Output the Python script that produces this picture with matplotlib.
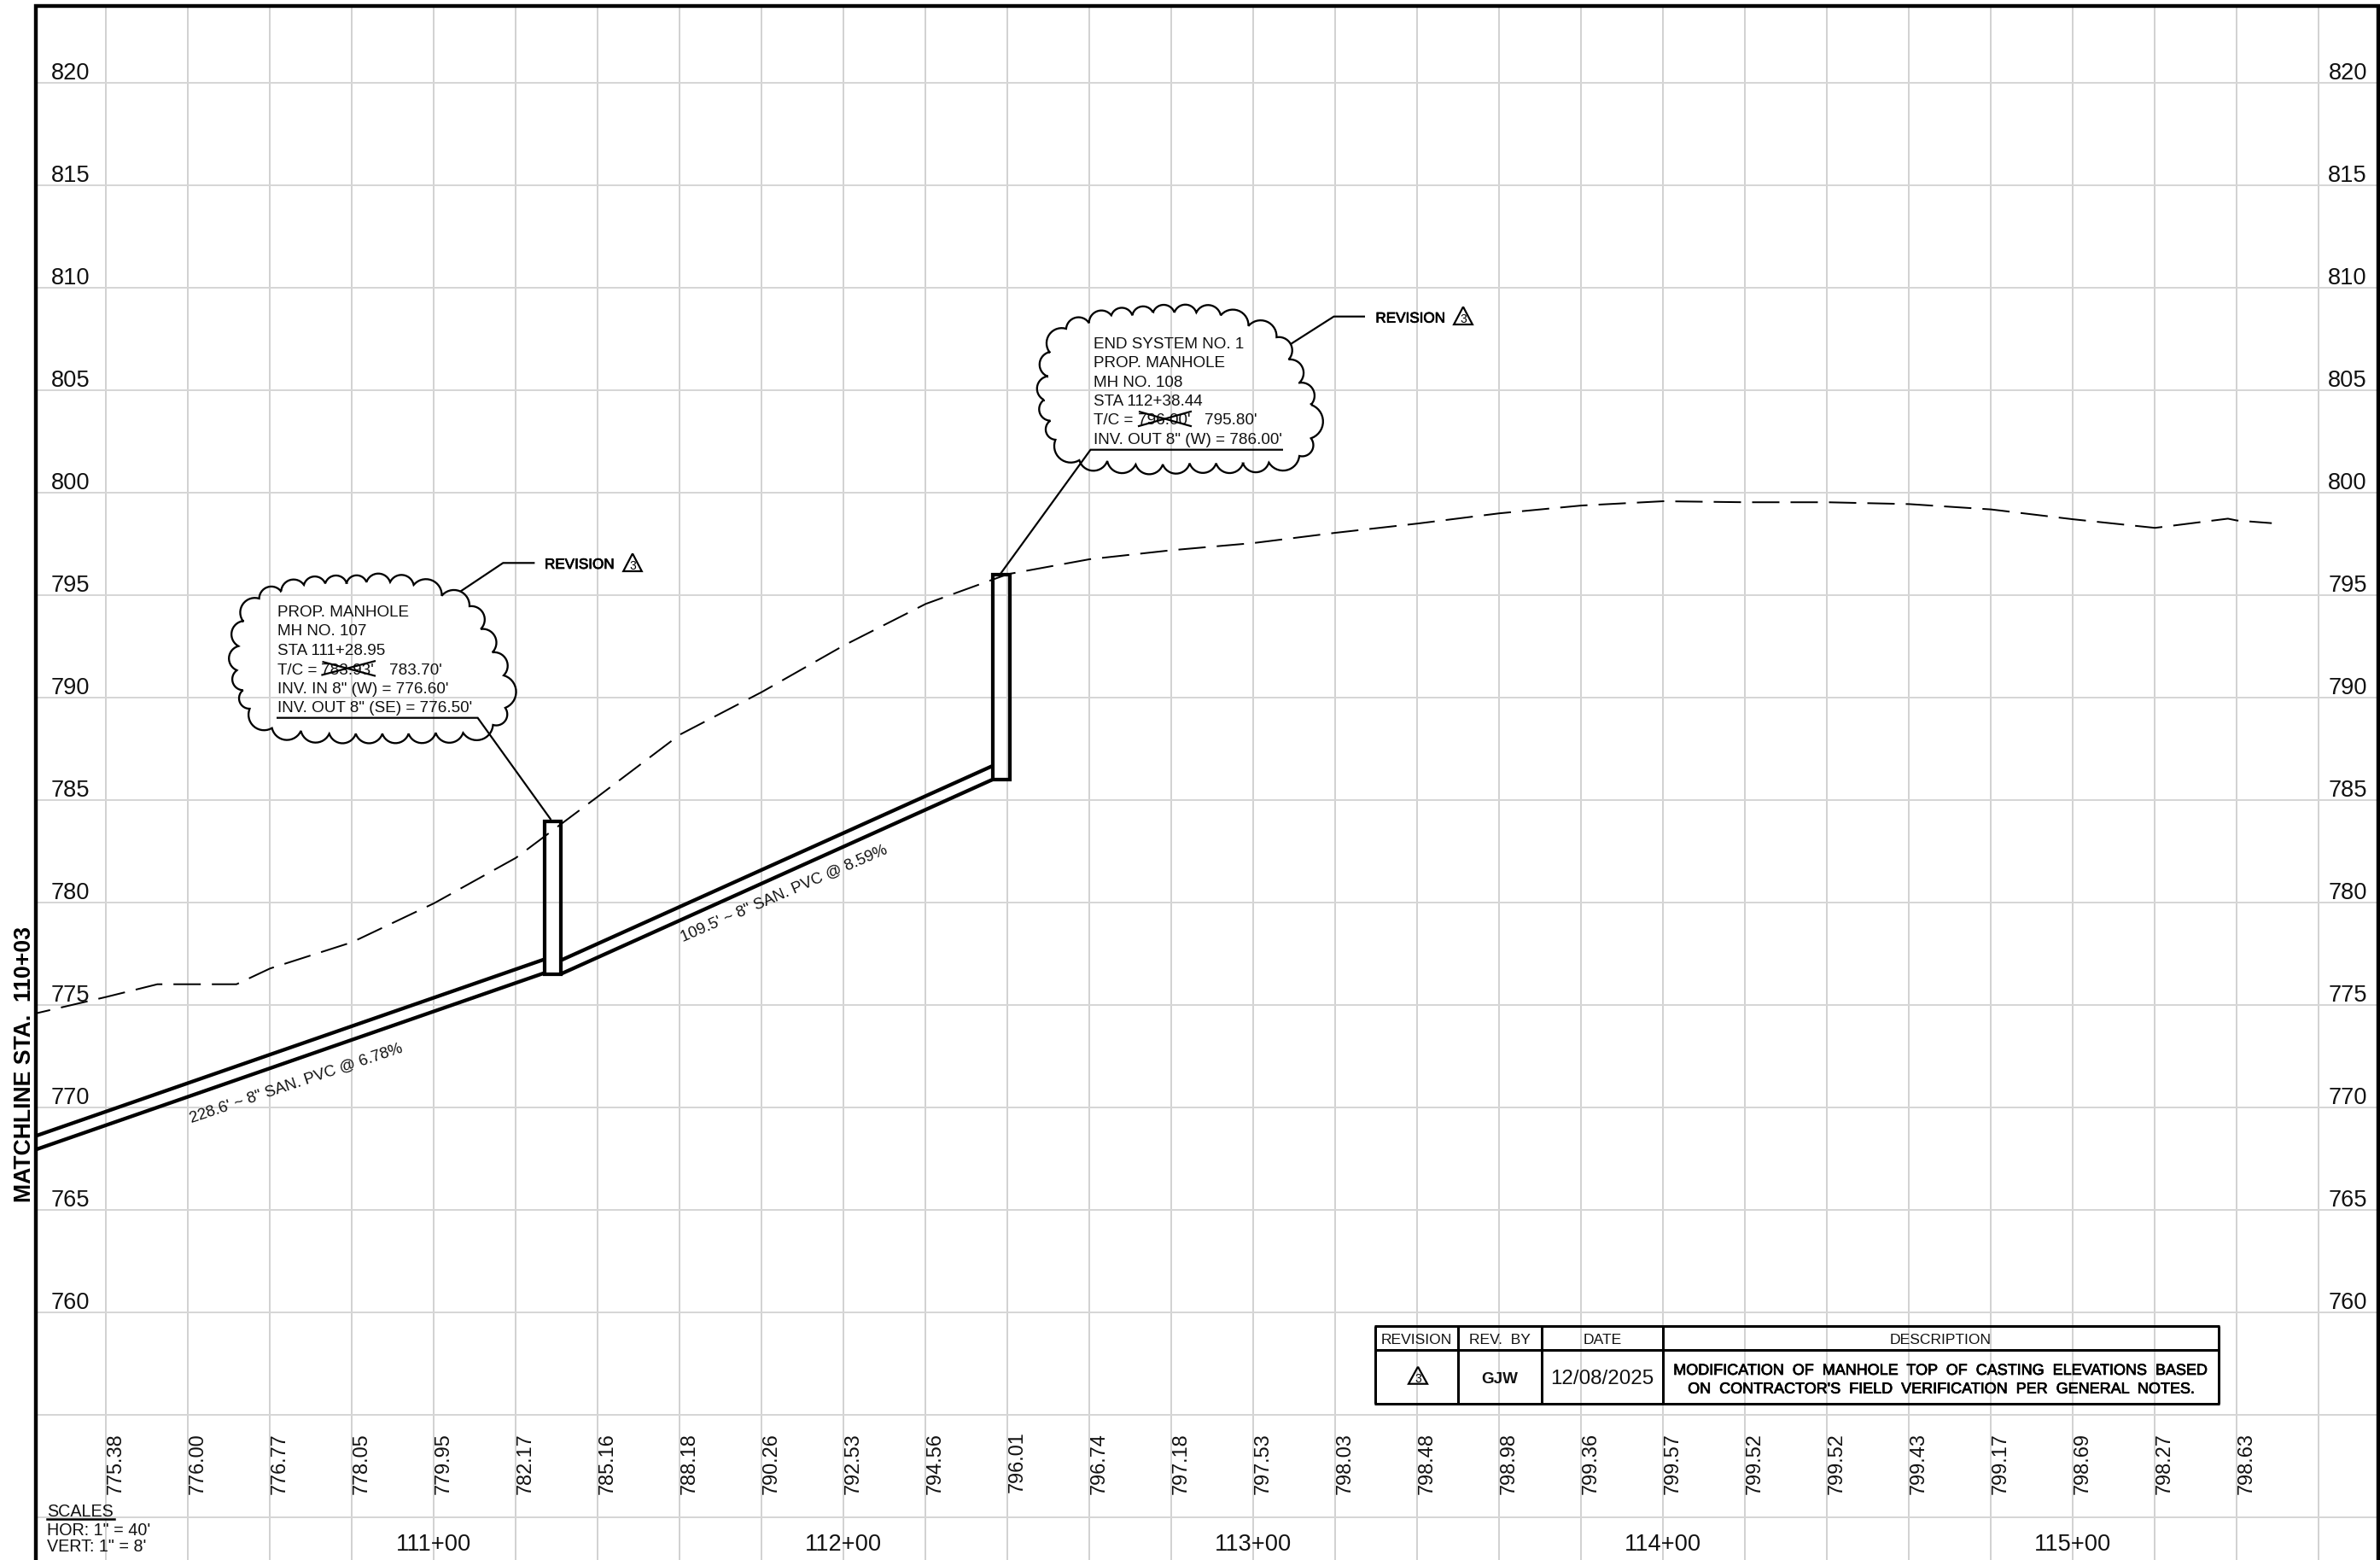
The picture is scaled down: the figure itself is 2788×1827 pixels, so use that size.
import numpy as np
import matplotlib
matplotlib.use("Agg")
import matplotlib.pyplot as plt
import matplotlib.patheffects as pe
from matplotlib.transforms import Affine2D
from matplotlib.patches import Rectangle

W, H = 2788, 1827
plt.rcParams['font.family'] = ['Liberation Sans', 'DejaVu Sans']
plt.rcParams['lines.scale_dashes'] = False

# ---- data ----
grid_stations = [11020, 11040, 11060, 11080, 11100, 11120, 11140, 11160, 11180, 11200,
                 11220, 11240, 11260, 11280, 11300, 11320, 11340, 11360, 11380, 11400,
                 11420, 11440, 11460, 11480, 11500, 11520, 11540, 11560]
grid_elevs = [820, 815, 810, 805, 800, 795, 790, 785, 780, 775, 770, 765, 760, 755, 750]
elev_labels = [820, 815, 810, 805, 800, 795, 790, 785, 780, 775, 770, 765, 760]
label_stations = grid_stations[:27]
label_values = ['775.38', '776.00', '776.77', '778.05', '779.95', '782.17', '785.16', '788.18',
                '790.26', '792.53', '794.56', '796.01', '796.74', '797.18', '797.53', '798.03',
                '798.48', '798.98', '799.36', '799.57', '799.52', '799.52', '799.43', '799.17',
                '798.69', '798.27', '798.63']
station_labels = {11100: '111+00', 11200: '112+00', 11300: '113+00', 11400: '114+00', 11500: '115+00'}

ground_sta = [11002.65, 11020, 11032.5, 11051.8, 11060, 11080, 11100, 11120, 11140, 11160, 11180,
              11200, 11220, 11240, 11260, 11280, 11300, 11320, 11340, 11360, 11380, 11400,
              11420, 11440, 11460, 11480, 11500, 11520, 11537.8, 11540, 11548.5]
ground_elev = [774.57, 775.38, 776.00, 776.00, 776.77, 778.05, 779.95, 782.17, 785.16, 788.18, 790.26,
               792.53, 794.56, 796.01, 796.74, 797.18, 797.53, 798.03, 798.48, 798.98, 799.36, 799.57,
               799.52, 799.52, 799.43, 799.17, 798.69, 798.27, 798.72, 798.63, 798.50]

pipe1_sta = [11002.65, 11126.95]
pipe1_inv = [767.92, 776.55]
pipe2_sta = [11130.95, 11236.44]
pipe2_inv = [776.50, 786.00]
pipe_dia = 8 / 12

mh_sta = [11128.95, 11238.44]
mh_bottom = [776.50, 786.00]
mh_top = [783.93, 796.00]
mh_width = 4.0

cloud1 = [(284.6,727.3),(279.3,756.7),(277.5,785),(284.6,808.3),(292.5,830),(318.6,852.7),(352.5,856),
          (385.7,859.3),(416.8,859.3),(447.9,859.3),(478.6,859.3),(510.4,858.3),(542.5,858.3),(577.5,849),
          (591.8,829),(590,791),(576.8,764),(563.2,736.7),(550,710),(517.5,697.7),(484.6,685),(457,681.7),
          (429.3,681.7),(406,682.7),(381,683.3),(356,685),(329.3,692.7),(303.6,701)]
cloud2 = [(1229.3,412.3),(1226.8,440.7),(1222.9,468.3),(1230.4,492.7),(1236.4,515),(1264.3,539),(1297.1,540),
          (1330.4,544),(1362.1,544),(1393.6,542.7),(1424.6,542.7),(1456.1,542.7),(1486.4,541.7),(1522.1,534),
          (1535.7,513.3),(1535.7,474),(1522.1,448.3),(1509.6,421),(1495.4,395),(1462.5,381.7),(1430,369.3),
          (1401.4,366),(1375.7,366),(1350.7,366),(1326.4,369.3),(1301.8,369.3),(1275.7,378.3),(1248.9,385)]

# ---- figure: one axes over the whole sheet, station/elevation scales ----
sx = 4.8     # px per foot of station
sy = 24.0    # px per foot of elevation
fig = plt.figure(figsize=(W / 100, H / 100), dpi=100, facecolor='white')
ax = fig.add_axes([0, 0, 1, 1])
ax.set_xlim(11100 + (0 - 508.4) / sx, 11100 + (W - 508.4) / sx)
ax.set_ylim(775 + (1176.7 - H) / sy, 775 + 1176.7 / sy)
ax.axis('off')
PX = Affine2D().scale(1 / W, -1 / H).translate(0, 1) + fig.transFigure   # sheet pixels, for notes

P = 100 / 72  # px per point
def lw(px):
    return px / P

heavy = [pe.withStroke(linewidth=0.55, foreground='black')]

# grid
top = 775 + (1176.7 - 6) / sy
bottom = ax.get_ylim()[0]
left = 11100 + (42 - 508.4) / sx
right = 11100 + (2786 - 508.4) / sx
ax.vlines(grid_stations, bottom, top, color='#c4c4c4', lw=lw(1.5), zorder=1)
ax.hlines(grid_elevs, left, right, color='#d6d6d6', lw=lw(2.0), zorder=1)

# frame
ax.plot([42.2, 42.2, 2786, 2786], [H, 7, 7, H], color='black', lw=lw(4.4), transform=PX,
        solid_joinstyle='miter', solid_capstyle='butt', zorder=6)

# ground
ax.plot(ground_sta, ground_elev, color='black', lw=lw(2.0),
        linestyle=(10, (lw(32), lw(13))), dash_capstyle='butt', zorder=3)

# pipes
for sta, inv in ((pipe1_sta, pipe1_inv), (pipe2_sta, pipe2_inv)):
    ax.plot(sta, inv, color='black', lw=lw(4.3), solid_capstyle='butt', zorder=4)
    ax.plot(sta, np.array(inv) + pipe_dia, color='black', lw=lw(4.3), solid_capstyle='butt', zorder=4)

# manholes
for s, b, t in zip(mh_sta, mh_bottom, mh_top):
    ax.add_patch(Rectangle((s - mh_width / 2, b), mh_width, t - b, fill=False, ec='black',
                           lw=lw(4.2), joinstyle='miter', zorder=5))

# elevation labels
for v in elev_labels:
    y = 1176.7 - (v - 775) * sy - 4
    ax.text(59.5, y, str(v), transform=PX, fontsize=19.6, ha='left', va='baseline', color='#111111')
    ax.text(2773, y, str(v), transform=PX, fontsize=19.6, ha='right', va='baseline', color='#111111')

# profile labels
xpx = lambda s: 508.4 + (s - 11100) * sx
for s, t in zip(label_stations, label_values):
    dy = 3 if t == '796.01' else 0
    ax.text(xpx(s) + 11, 1750.5 - dy, t, transform=PX, fontsize=16.9, rotation=90, ha='center',
            va='bottom', color='#111111', rotation_mode='default')
for s, t in station_labels.items():
    ax.text(xpx(s), 1816, t, transform=PX, fontsize=19.6, ha='center', va='baseline', color='#111111')

# matchline and scales
ax.text(29, 1247, 'MATCHLINE STA.  110+03', transform=PX, fontsize=19.2, fontweight='bold', rotation=90,
        ha='center', va='center', color='black')
ax.text(55, 1776, 'SCALES', transform=PX, fontsize=14.2, ha='left', va='baseline', color='#111111')
ax.plot([55, 134], [1778.5, 1778.5], color='black', lw=lw(2.5), transform=PX, zorder=5)
ax.text(55, 1798, 'HOR: 1" = 40\'', transform=PX, fontsize=14.2, ha='left', va='baseline', color='#111111')
ax.text(55, 1817, 'VERT: 1" = 8\'', transform=PX, fontsize=14.2, ha='left', va='baseline', color='#111111')

# pipe labels
ax.text(347, 1269, '228.6\' ~ 8" SAN. PVC @ 6.78%', transform=PX, fontsize=13.4, rotation=18.5,
        ha='center', va='center', rotation_mode='anchor', color='#111111')
ax.text(919, 1047, '109.5\' ~ 8" SAN. PVC @ 8.59%', transform=PX, fontsize=13.4, rotation=23.4,
        ha='center', va='center', rotation_mode='anchor', color='#111111')


def draw_cloud(pts, ratio=0.36):
    xs, ys = [], []
    n = len(pts)
    for i in range(n):
        a = np.array(pts[i], float)
        b = np.array(pts[(i + 1) % n], float)
        d = b - a
        c = np.hypot(*d)
        h = ratio * c
        r = (c * c / 4 + h * h) / (2 * h)
        nrm = np.array([-d[1], d[0]]) / c
        m = (a + b) / 2
        cen = m + nrm * (h - r)
        a0 = np.arctan2(*(a - cen)[::-1])
        a1 = np.arctan2(*(b - cen)[::-1])
        am = np.arctan2(*(m + nrm * h - cen)[::-1])
        da = (a1 - a0 + np.pi) % (2 * np.pi) - np.pi
        dm = (am - a0 + np.pi) % (2 * np.pi) - np.pi
        if da * dm < 0:
            da = da - np.sign(da) * 2 * np.pi
        t = np.linspace(0, 1, 16)
        xs += list(cen[0] + r * np.cos(a0 + da * t))
        ys += list(cen[1] + r * np.sin(a0 + da * t))
    xs.append(xs[0]); ys.append(ys[0])
    ax.plot(xs, ys, color='black', lw=lw(2.3), transform=PX, solid_joinstyle='miter', zorder=4)


def note_lines(x, baselines, lines):
    for y, t in zip(baselines, lines):
        ax.text(x, y, t, transform=PX, fontsize=13.6, ha='left', va='baseline', color='#111111', zorder=5)


def polyline(pts, px=2.2):
    arr = np.array(pts)
    ax.plot(arr[:, 0], arr[:, 1], color='black', lw=lw(px), transform=PX, solid_joinstyle='miter',
            solid_capstyle='butt', zorder=5)


def triangle(ax_x, top_y, half, h, fs=10):
    polyline([(ax_x, top_y), (ax_x - half, top_y + h), (ax_x + half, top_y + h), (ax_x, top_y)], 2.2)
    ax.text(ax_x, top_y + h - 2, '3', transform=PX, fontsize=fs, ha='center', va='baseline', color='black', zorder=5)


# note 1
draw_cloud(cloud1)
note_lines(325, [721.7, 744.4, 767, 789.7, 811.9, 834],
           ['PROP. MANHOLE', 'MH NO. 107', 'STA 111+28.95', 'T/C =', 'INV. IN 8" (W) = 776.60\'',
            'INV. OUT 8" (SE) = 776.50\''])
note_lines(376.4, [789.7], ["783.93'"])
note_lines(456, [789.7], ["783.70'"])
polyline([(376.4, 790.7), (440, 774)])
polyline([(377.5, 775), (440, 791.7)])
polyline([(324, 840.7), (559.6, 840.7), (645.4, 960)])
polyline([(539.3, 692.7), (589.3, 659.3), (626.4, 659.3)])
ax.text(638, 666, 'REVISION', transform=PX, fontsize=12.3, ha='left', va='baseline', color='black', path_effects=heavy)
triangle(741, 648.3, 10.8, 20.7)

# note 2
draw_cloud(cloud2)
note_lines(1281, [407.7, 430, 452.7, 475, 497.3, 520],
           ['END SYSTEM NO. 1', 'PROP. MANHOLE', 'MH NO. 108', 'STA 112+38.44', 'T/C =',
            'INV. OUT 8" (W) = 786.00\''])
note_lines(1333, [497.3], ["796.00'"])
note_lines(1411.4, [497.3], ["795.80'"])
polyline([(1333, 499.3), (1396, 481.7)])
polyline([(1334, 482), (1396, 499.3)])
polyline([(1503, 526.7), (1277.5, 526.7), (1172, 672)])
polyline([(1511.4, 403.3), (1562.5, 370.7), (1599, 370.7)])
ax.text(1611.4, 377.7, 'REVISION', transform=PX, fontsize=12.3, ha='left', va='baseline', color='black', path_effects=heavy)
triangle(1714, 359.3, 10.9, 20.7)

# revision table
tx = [1611, 1708, 1806, 1948, 2598.8]
ty = [1553.3, 1581, 1644]
for y in ty:
    polyline([(tx[0] - 1.5, y), (tx[-1] + 1.5, y)], 3.0)
for x in tx:
    polyline([(x, ty[0]), (x, ty[-1])], 3.0)
headers = ['REVISION', 'REV.  BY', 'DATE', 'DESCRIPTION']
for i, t in enumerate(headers):
    ax.text((tx[i] + tx[i + 1]) / 2, 1574.5, t, transform=PX, fontsize=12.6, ha='center', va='baseline', color='#111111')
triangle(1661, 1600.7, 11, 20)
ax.text(1757, 1620, 'GJW', transform=PX, fontsize=13.6, fontweight='bold', ha='center', va='baseline', color='#111111')
ax.text(1877, 1621, '12/08/2025', transform=PX, fontsize=17.4, ha='center', va='baseline', color='#111111')
ax.text(2273, 1610, 'MODIFICATION  OF  MANHOLE  TOP  OF  CASTING  ELEVATIONS  BASED', transform=PX,
        fontsize=12.95, ha='center', va='baseline', color='black', path_effects=heavy)
ax.text(2274, 1631.7, "ON  CONTRACTOR'S  FIELD  VERIFICATION  PER  GENERAL  NOTES.", transform=PX,
        fontsize=12.95, ha='center', va='baseline', color='black', path_effects=heavy)

fig.savefig('out.png', dpi=100, facecolor='white')
